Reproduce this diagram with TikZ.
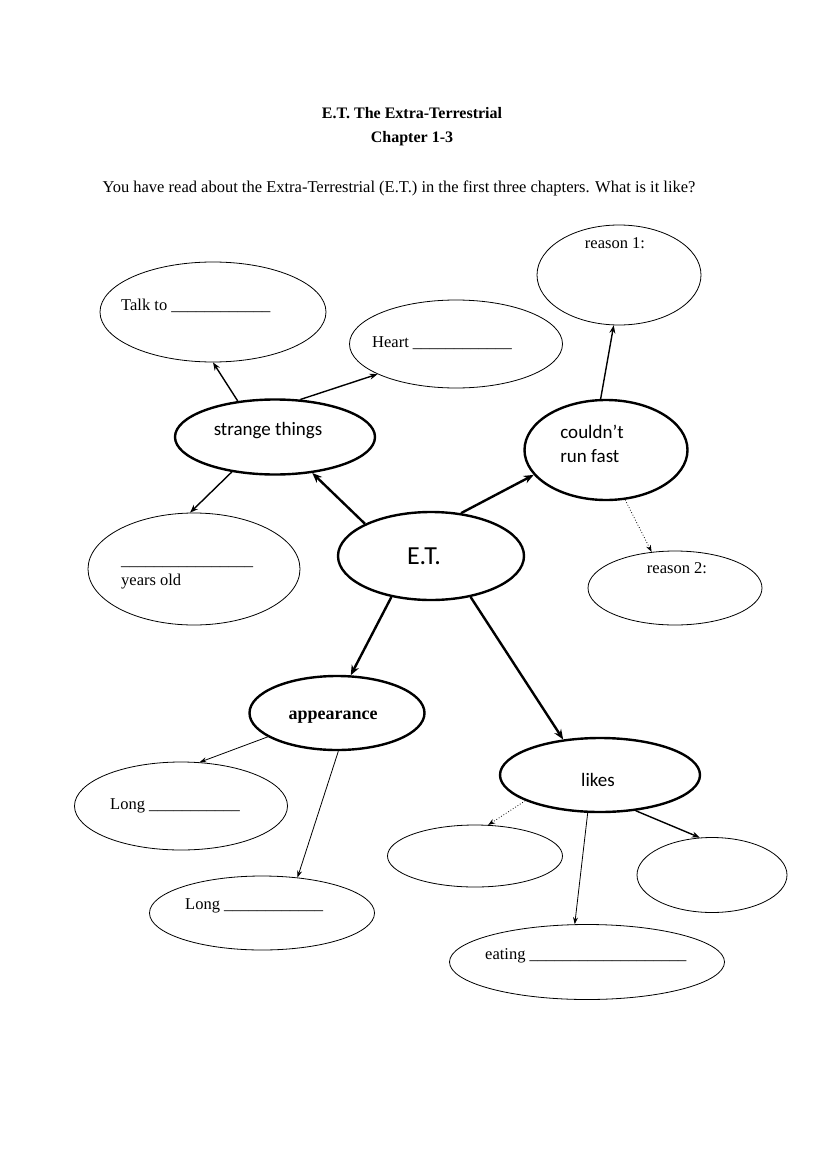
\documentclass[tikz,border=0pt]{standalone}
\usepackage{fontspec}
\setmainfont{Liberation Serif}
\newfontfamily\mapfont{Carlito}
\usetikzlibrary{shapes.geometric,arrows.meta}

\begin{document}
\begin{tikzpicture}[x=1pt,y=-1pt,
    thinell/.style={draw,ellipse,inner sep=0pt,line width=0.8pt},
    thickell/.style={draw,ellipse,inner sep=0pt,line width=2.4pt},
    txt/.style={inner sep=0pt,font=\fontsize{16.5}{20}\selectfont},
    sans/.style={inner sep=0pt,font=\mapfont\fontsize{19}{24}\selectfont},
    thinarr/.style={-{Stealth[length=7pt,width=5pt]},line width=0.8pt},
    midarr/.style={-{Stealth[length=8pt,width=6pt]},line width=1.4pt},
    bigarr/.style={-{Stealth[length=10pt,width=8pt]},line width=2.4pt},
    dotarr/.style={-{Stealth[length=7pt,width=5pt]},line width=0.8pt,dotted}]
  \useasboundingbox (0,0) rectangle (821,1169);

  % Heading
  \node[txt,font=\bfseries\fontsize{16}{20}\selectfont] (title) at (412,113) {E.T. The Extra-Terrestrial};
  \node[txt,font=\bfseries\fontsize{16}{20}\selectfont] (chapter) at (412,139) {Chapter 1-3};
  \node[txt] (task) at (399,188)
    {You have read about the Extra-Terrestrial (E.T.) in the first three chapters. What is it like?};

  % Main bubbles
  \node[thickell,minimum width=186,minimum height=88] (et) at (431,556) {};
  \node[sans,font=\mapfont\fontsize{26}{30}\selectfont] (etT) at (424,556) {E.T.};
  \node[thickell,minimum width=200,minimum height=75] (strange) at (275,437) {};
  \node[sans] (strangeT) at (268,431) {strange things};
  \node[thickell,minimum width=163,minimum height=100] (fast) at (606,450) {};
  \node[sans,align=left] (fastT) at (592,444) {couldn’t\\run fast};
  \node[thickell,minimum width=175,minimum height=74] (look) at (337,713) {};
  \node[txt,font=\bfseries\fontsize{18}{22}\selectfont] (lookT) at (333,717) {appearance};
  \node[thickell,minimum width=200,minimum height=74] (likes) at (600,775) {};
  \node[sans] (likesT) at (598,780) {likes};

  % Answer bubbles
  \node[thinell,minimum width=226,minimum height=100] (talk) at (213,312) {};
  \node[txt,anchor=west] (talkT) at (121,306) {Talk to \_\_\_\_\_\_\_\_\_\_\_\_};
  \node[thinell,minimum width=213,minimum height=88] (heart) at (456,344) {};
  \node[txt,anchor=west] (heartT) at (372,343) {Heart \_\_\_\_\_\_\_\_\_\_\_\_};
  \node[thinell,minimum width=212,minimum height=112] (age) at (194,569) {};
  \node[txt,anchor=west,align=left] (ageT) at (121,577)
    {\_\_\_\_\_\_\_\_\_\_\_\_\_\_\_\_\\years old};
  \node[thinell,minimum width=164,minimum height=100] (why1) at (619,275) {};
  \node[txt] (why1T) at (615,243) {reason 1:};
  \node[thinell,minimum width=174,minimum height=74] (why2) at (675,588) {};
  \node[txt] (why2T) at (677,568) {reason 2:};
  \node[thinell,minimum width=213,minimum height=88] (long1) at (181,806) {};
  \node[txt,anchor=west] (long1T) at (110,806) {Long \_\_\_\_\_\_\_\_\_\_\_};
  \node[thinell,minimum width=225,minimum height=74] (long2) at (262,913) {};
  \node[txt,anchor=west] (long2T) at (185,906) {Long \_\_\_\_\_\_\_\_\_\_\_\_};
  \node[thinell,minimum width=175,minimum height=62] (like1) at (475,856) {};
  \node[thinell,minimum width=150,minimum height=75] (like2) at (712,875) {};
  \node[thinell,minimum width=275,minimum height=75] (eat) at (587,962) {};
  \node[txt,anchor=west] (eatT) at (485,956) {eating \_\_\_\_\_\_\_\_\_\_\_\_\_\_\_\_\_\_\_};

  % From E.T.
  \draw[bigarr] (et.154) -- (strange.316);
  \draw[bigarr] (et.55) -- (fast.199);
  \draw[bigarr] (et.226) -- (look.70);
  \draw[bigarr] (et.314) -- (likes.136);

  % From strange things
  \draw[midarr] (strange.136) -- (talk.270);
  \draw[midarr] (strange.56) -- (heart.201);
  \draw[midarr] (strange.219) -- (age.94);

  % From couldn't run fast
  \draw[midarr] (fast.96) -- (why1.264);
  \draw[dotarr] (fast.291) -- (why2.123);

  % From appearance
  \draw[thinarr] (look.199) -- (long1.67);
  \draw[thinarr] (look.272) -- (long2.45);

  % From likes
  \draw[dotarr] (likes.199) -- (like1.67);
  \draw[thinarr] (likes.252) -- (eat.108);
  \draw[midarr] (likes.315) -- (like2.108);
\end{tikzpicture}
\end{document}
